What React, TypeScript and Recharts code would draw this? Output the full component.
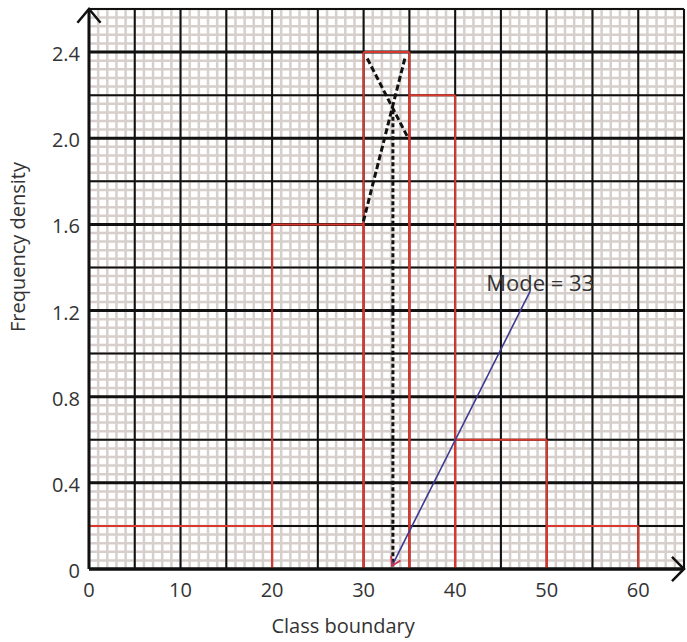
import React from 'react';
import { ComposedChart, XAxis, YAxis, ReferenceLine, ReferenceDot, Label } from 'recharts';

// Histogram (class boundaries and frequency densities)
const classStart = [0, 20, 30, 35, 40, 50];
const classEnd = [20, 30, 35, 40, 50, 60];
const frequencyDensity = [0.2, 1.6, 2.4, 2.2, 0.6, 0.2];

// Axis ticks
const xTicks = [0, 10, 20, 30, 40, 50, 60];
const yTicks = [0, 0.4, 0.8, 1.2, 1.6, 2.0, 2.4];
const yTickLabels = ['0', '0.4', '0.8', '1.2', '1.6', '2.0', '2.4'];

// Mode construction
const modeLineA = [{ x: 30.4, y: 2.37 }, { x: 34.75, y: 2.01 }];
const modeLineB = [{ x: 34.5, y: 2.37 }, { x: 29.95, y: 1.61 }];
const modeDrop = [{ x: 33.2, y: 2.13 }, { x: 33.2, y: 0.012 }];
const modeArrow = [{ x: 48.2, y: 1.29 }, { x: 33.1, y: 0.015 }];
const modeLabel = { x: 43.4, y: 1.29, text: 'Mode = 33' };

const X_MAX = 65;
const Y_MAX = 2.6;

// Graph paper
const minorX = Array.from({ length: 66 }, (_, i) => i);
const minorY = Array.from({ length: 66 }, (_, i) => +(i * 0.04).toFixed(2));
const majorX = Array.from({ length: 14 }, (_, i) => i * 5);
const majorY = Array.from({ length: 14 }, (_, i) => +(i * 0.2).toFixed(1));

const FONT = "'Open Sans', 'Liberation Sans', sans-serif";
const TEXT = '#333333';
const RED = '#d8382e';

function arrowHead(x1: number, y1: number, x2: number, y2: number, len: number, deg: number) {
  const ang = Math.atan2(y1 - y2, x1 - x2);
  const t = (deg * Math.PI) / 180;
  const ax = x2 + len * Math.cos(ang + t);
  const ay = y2 + len * Math.sin(ang + t);
  const bx = x2 + len * Math.cos(ang - t);
  const by = y2 + len * Math.sin(ang - t);
  return `M${ax},${ay} L${x2},${y2} L${bx},${by}`;
}

const makeArrowShape =
  (stroke: string, width: number, headStroke: string, headLen: number, headDeg: number, headWidth: number) =>
  (p: any) => (
    <g>
      <line x1={p.x1} y1={p.y1} x2={p.x2} y2={p.y2} stroke={stroke} strokeWidth={width} />
      <path
        d={arrowHead(p.x1, p.y1, p.x2, p.y2, headLen, headDeg)}
        fill="none"
        stroke={headStroke}
        strokeWidth={headWidth}
        strokeLinejoin="miter"
      />
    </g>
  );

const renderXTitle = (props: any) => {
  const vb = props.viewBox || { x: 89, y: 569, width: 595, height: 73 };
  return (
    <text x={vb.x + vb.width * 0.427} y={vb.y + 64} textAnchor="middle" fill={TEXT} fontSize={20} fontFamily={FONT}>
      Class boundary
    </text>
  );
};

const renderYTitle = (props: any) => {
  const vb = props.viewBox || { x: 0, y: 9, width: 89, height: 560 };
  const cx = vb.x + 25;
  const cy = vb.y + vb.height * 0.425;
  return (
    <text
      x={cx}
      y={cy}
      transform={`rotate(-90 ${cx} ${cy})`}
      textAnchor="middle"
      fill={TEXT}
      fontSize={20}
      fontFamily={FONT}
    >
      Frequency density
    </text>
  );
};

export default function App() {
  const barSegments: { a: { x: number; y: number }; b: { x: number; y: number } }[] = [];
  classStart.forEach((s, i) => {
    const e = classEnd[i];
    const h = frequencyDensity[i];
    barSegments.push({ a: { x: s, y: 0 }, b: { x: s, y: h } });
    barSegments.push({ a: { x: s, y: h }, b: { x: e, y: h } });
    barSegments.push({ a: { x: e, y: h }, b: { x: e, y: 0 } });
  });

  return (
    <div style={{ position: 'absolute', left: 0, top: 0, background: '#ffffff' }}>
      <ComposedChart width={687} height={642} margin={{ top: 9, right: 3, bottom: 0, left: 0 }}>
        <XAxis
          type="number"
          dataKey="x"
          domain={[0, X_MAX]}
          ticks={xTicks}
          interval={0}
          allowDataOverflow
          axisLine={false}
          tickLine={false}
          tickSize={0}
          tickMargin={14}
          height={73}
          tick={{ fill: TEXT, fontSize: 20, fontFamily: FONT }}
        >
          <Label content={renderXTitle} />
        </XAxis>
        <YAxis
          type="number"
          dataKey="y"
          domain={[0, Y_MAX]}
          ticks={yTicks}
          interval={0}
          allowDataOverflow
          axisLine={false}
          tickLine={false}
          tickSize={0}
          tickMargin={9}
          width={89}
          tickFormatter={(v: number) => yTickLabels[yTicks.indexOf(v)] ?? String(v)}
          tick={{ fill: TEXT, fontSize: 20, fontFamily: FONT, dy: 2 }}
        >
          <Label content={renderYTitle} />
        </YAxis>

        {/* minor grid */}
        {minorX.map((v) => (
          <ReferenceLine key={`mx${v}`} x={v} stroke="#d6cfcb" strokeWidth={2.5} />
        ))}
        {minorY.map((v) => (
          <ReferenceLine key={`my${v}`} y={v} stroke="#d6cfcb" strokeWidth={2.5} />
        ))}
        {/* major grid */}
        {majorX.map((v) => (
          <ReferenceLine key={`Mx${v}`} x={v} stroke="#111111" strokeWidth={2} />
        ))}
        {majorY.map((v, i) => (
          <ReferenceLine key={`My${v}`} y={v} stroke="#111111" strokeWidth={i % 2 === 0 ? 3 : 2} />
        ))}

        {/* histogram */}
        {barSegments.map((s, i) => (
          <ReferenceLine key={`b${i}`} segment={[s.a, s.b]} stroke={RED} strokeWidth={2} />
        ))}

        {/* axes with arrows */}
        <ReferenceLine
          segment={[{ x: 0, y: 0 }, { x: 0, y: Y_MAX }]}
          shape={makeArrowShape('#111111', 3, '#111111', 18, 40, 2.5)}
        />
        <ReferenceLine
          segment={[{ x: 0, y: 0 }, { x: X_MAX, y: 0 }]}
          shape={makeArrowShape('#111111', 3, '#111111', 17, 45, 2.5)}
        />

        {/* mode construction */}
        <ReferenceLine segment={modeLineA} stroke="#111111" strokeWidth={3} strokeDasharray="6 3" />
        <ReferenceLine segment={modeLineB} stroke="#111111" strokeWidth={3} strokeDasharray="6 3" />
        <ReferenceLine segment={modeDrop} stroke="#111111" strokeWidth={3} strokeDasharray="4 2.5" />
        <ReferenceLine segment={modeArrow} shape={makeArrowShape('#3d3a93', 1.6, '#c8354a', 10, 32, 1.8)} />
        <ReferenceDot
          x={modeLabel.x}
          y={modeLabel.y}
          r={0}
          shape={(p: any) => (
            <text x={p.cx} y={p.cy} fill={TEXT} fontSize={22} fontFamily={FONT} textAnchor="start">
              {modeLabel.text}
            </text>
          )}
        />
      </ComposedChart>
    </div>
  );
}
